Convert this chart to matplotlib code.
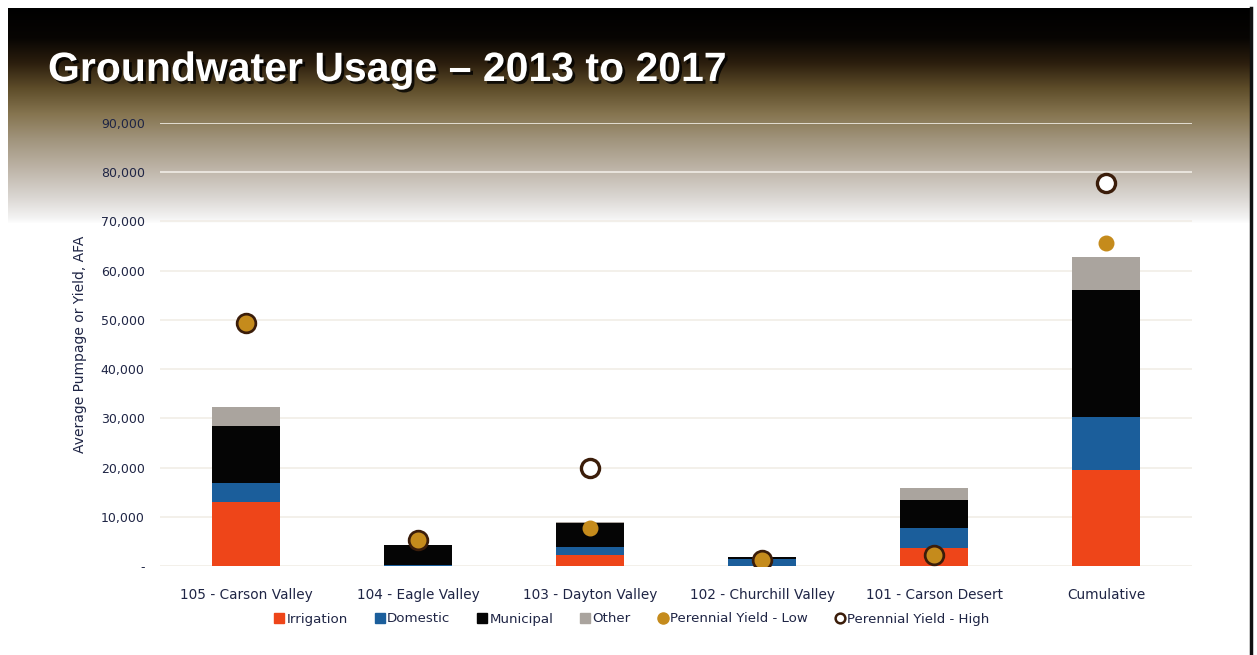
import numpy as np
import matplotlib
matplotlib.use("Agg")
from matplotlib import pyplot as plt
from matplotlib import patheffects
from matplotlib.lines import Line2D

# values (acre-feet per year)
categories = ["105 - Carson Valley", "104 - Eagle Valley", "103 - Dayton Valley",
              "102 - Churchill Valley", "101 - Carson Desert", "Cumulative"]
irrigation = [13000, 0, 2200, 0, 3700, 19500]
domestic = [3900, 300, 1700, 1500, 4000, 10800]
municipal = [11600, 4000, 4800, 300, 5700, 25800]
other = [3900, 0, 200, 0, 2400, 6700]
yield_low = [49400, 5300, 7700, 1200, 2200, 65600]
yield_high = [49400, 5300, 19900, 1200, 2200, 77800]

y_ticks = [0, 10000, 20000, 30000, 40000, 50000, 60000, 70000, 80000, 90000]
y_tick_labels = ["-", "10,000", "20,000", "30,000", "40,000", "50,000",
                 "60,000", "70,000", "80,000", "90,000"]

C_IRR = "#ee4519"
C_DOM = "#1b5e9b"
C_MUN = "#050505"
C_OTH = "#aaa49e"
C_LOW = "#c58b1c"
C_HIGH_EDGE = "#3b1d0a"
TEXT = "#1f2545"

W, H = 1257, 655
fig = plt.figure(figsize=(W / 100, H / 100), dpi=100)
fig.patch.set_facecolor("white")

# slide header gradient (black -> brown -> white)
stops_y = [0, 30, 55, 80, 105, 130, 160, 190, 210, 215]
stops_c = ["#000000", "#080503", "#2c1f0e", "#5e4d2a", "#85744f",
           "#a0937b", "#bdb4a7", "#dcd8d4", "#f4f4f4", "#ffffff"]
rgb = np.array([matplotlib.colors.to_rgb(c) for c in stops_c])
rows = np.arange(215)
grad = np.stack([np.interp(rows, stops_y, rgb[:, k]) for k in range(3)], axis=1)
img = np.repeat(grad[:, None, :], W - 12, axis=1)
fig.figimage(img, xo=8, yo=H - 8 - 215, origin="upper", zorder=-5)

# dark frame line on the right edge
fig.add_artist(Line2D([1251 / W, 1251 / W], [0, 1 - 8 / H], color="#111111", lw=2.5))

ax = fig.add_axes([160 / W, (H - 566) / H, 1032 / W, (566 - 123) / H])
ax.set_facecolor("none")

x = np.arange(len(categories))
bw = 0.4
bottom = np.zeros(len(categories))
for vals, col, lab in [(irrigation, C_IRR, "Irrigation"), (domestic, C_DOM, "Domestic"),
                       (municipal, C_MUN, "Municipal"), (other, C_OTH, "Other")]:
    ax.bar(x, vals, bw, bottom=bottom, color=col, label=lab, zorder=3)
    bottom += np.array(vals)

ax.scatter(x, yield_high, s=170, facecolor="white", edgecolor=C_HIGH_EDGE,
           linewidth=2.4, zorder=4)
ax.scatter(x, yield_low, s=110, color=C_LOW, zorder=5)

ax.set_xlim(-0.5, len(categories) - 0.5)
ax.set_ylim(0, 90000)
ax.set_yticks(y_ticks)
ax.set_yticklabels(y_tick_labels)
ax.set_xticks(x)
ax.set_xticklabels(categories, fontsize=9.8)
ax.tick_params(axis="both", length=0, colors=TEXT)
ax.tick_params(axis="y", labelsize=9, pad=11)
ax.tick_params(axis="x", pad=16)
ax.grid(axis="y", color="#f1ede6", lw=1.2, zorder=1)
ax.set_axisbelow(True)
for s in ax.spines.values():
    s.set_visible(False)
ax.set_ylabel("Average Pumpage or Yield, AFA", fontsize=10, color=TEXT, labelpad=10)

handles = [
    Line2D([], [], marker="s", ls="", color=C_IRR, markersize=7),
    Line2D([], [], marker="s", ls="", color=C_DOM, markersize=7),
    Line2D([], [], marker="s", ls="", color=C_MUN, markersize=7),
    Line2D([], [], marker="s", ls="", color=C_OTH, markersize=7),
    Line2D([], [], marker="o", ls="", color=C_LOW, markersize=8),
    Line2D([], [], marker="o", ls="", markerfacecolor="white",
           markeredgecolor=C_HIGH_EDGE, markeredgewidth=1.8, markersize=7),
]
labels = ["Irrigation", "Domestic", "Municipal", "Other",
          "Perennial Yield - Low", "Perennial Yield - High"]
fig.legend(handles, labels, loc="center", bbox_to_anchor=(631 / W, 1 - 619 / H),
           ncol=6, frameon=False, fontsize=9.6, handletextpad=0.05,
           columnspacing=1.9, handlelength=1.0, labelcolor=TEXT)

title = fig.text(48 / W, 1 - 70 / H, "Groundwater Usage \u2013 2013 to 2017",
                 family="Liberation Sans", weight="bold",
                 fontsize=29.5, color="white", va="center", ha="left")
title.set_path_effects([patheffects.withSimplePatchShadow(offset=(2, -2),
                                                          shadow_rgbFace="black",
                                                          alpha=0.8)])

fig.savefig("out.png", dpi=100)
